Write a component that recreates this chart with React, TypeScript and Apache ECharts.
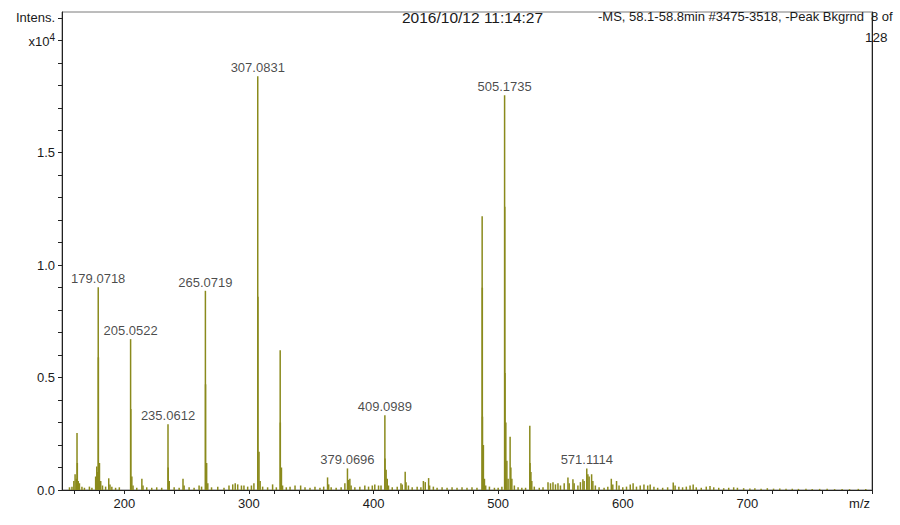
import { useEffect, useRef } from "react";
import * as echarts from "echarts";

// m/z range and axis ticks
const mzMin = 150;
const mzMax = 800;
const intensMax = 2.126; // x10^4
const xTickValues = [160, 180, 200, 220, 240, 260, 280, 300, 320, 340, 360, 380, 400, 420, 440, 460, 480, 500, 520, 540, 560, 580, 600, 620, 640, 660, 680, 700, 720, 740, 760, 780, 800];
const xLabelValues = [200, 300, 400, 500, 600, 700];
const yTickValues = [0, 0.1, 0.2, 0.3, 0.4, 0.5, 0.6, 0.7, 0.8, 0.9, 1.0, 1.1, 1.2, 1.3, 1.4, 1.5, 1.6, 1.7, 1.8, 1.9, 2.0, 2.1];
const yLabelValues = [0, 0.5, 1.0, 1.5, 2.0, 2.1];

// spectrum peaks [m/z, intensity x10^4]
const peaks150to250: [number, number][] = [
  [156, 0.012], [158, 0.015], [159.5, 0.04], [160.5, 0.07], [161.5, 0.05], [162.05, 0.253], [162.3, 0.12],
  [163.05, 0.04], [164, 0.03], [166, 0.015], [168, 0.01], [172, 0.015], [174, 0.01],
  [177.0, 0.06], [177.9, 0.104], [178.3, 0.08], [179.0718, 0.902], [179.2, 0.59], [180.07, 0.12],
  [181.07, 0.04], [182.5, 0.02], [185, 0.015], [187.5, 0.052], [188.5, 0.025], [190, 0.015], [193, 0.01], [196, 0.012],
  [205.0522, 0.671], [205.2, 0.36], [206.05, 0.06], [207, 0.02], [210, 0.01], [214.1, 0.05], [215, 0.02],
  [218, 0.012], [222, 0.01], [226, 0.012], [230, 0.01],
  [235.0612, 0.292], [235.2, 0.1], [236.06, 0.04], [240, 0.012], [244, 0.01], [247.1, 0.05], [248, 0.02],
];
const peaks250to350: [number, number][] = [
  [252, 0.012], [256, 0.01], [260, 0.02], [262, 0.015],
  [265.0719, 0.886], [265.2, 0.47], [266.07, 0.12], [267, 0.03], [270, 0.012], [275, 0.015], [280, 0.01],
  [284, 0.02], [287, 0.025], [289, 0.03], [291, 0.025], [294, 0.02], [296, 0.02], [299, 0.015], [302, 0.02], [304, 0.03],
  [307.0831, 1.84], [307.2, 0.86], [308.09, 0.17], [309, 0.04], [311, 0.015], [315, 0.012], [319, 0.025], [322, 0.012],
  [325.09, 0.622], [325.2, 0.3], [326.1, 0.1], [327, 0.02], [330, 0.012], [333, 0.015], [337, 0.02], [341.5, 0.02],
  [345, 0.012], [349, 0.01],
];
const peaks350to450: [number, number][] = [
  [353, 0.015], [357, 0.01], [360, 0.015],
  [363.1, 0.056], [364, 0.025], [366, 0.012], [370, 0.01], [374, 0.012], [377, 0.03], [379.0696, 0.096],
  [380, 0.045], [381, 0.05], [382, 0.02], [385, 0.012], [389, 0.015], [393, 0.02], [396, 0.015], [399, 0.02],
  [401, 0.025], [404, 0.02], [406, 0.02],
  [409.0989, 0.333], [409.2, 0.14], [410.1, 0.09], [411, 0.05], [412, 0.02], [415, 0.012], [419, 0.015],
  [422, 0.03], [423, 0.025], [425.4, 0.081], [426.1, 0.035], [428, 0.02], [431, 0.012], [435, 0.015], [438, 0.012],
  [440, 0.04], [441.5, 0.035], [444.2, 0.053], [445, 0.02], [448, 0.015],
];
const peaks450to550: [number, number][] = [
  [451, 0.01], [455, 0.012], [459, 0.01], [463, 0.012], [467, 0.01], [471, 0.012], [475, 0.01], [479, 0.012], [483, 0.01],
  [487.16, 1.218], [487.3, 0.9], [487.4, 0.326], [488.16, 0.2], [489, 0.05], [490, 0.02], [493, 0.015], [497, 0.01],
  [500, 0.01], [503, 0.015],
  [505.1735, 1.756], [505.3, 1.26], [505.45, 0.52], [506.17, 0.3], [507, 0.13], [508, 0.05], [509.6, 0.237],
  [510.2, 0.1], [511, 0.05], [513, 0.02], [516, 0.012], [519, 0.01], [522, 0.01],
  [525.4, 0.286], [525.6, 0.12], [526.3, 0.08], [527, 0.04], [529, 0.015], [533, 0.01], [536, 0.012],
  [540, 0.035], [542, 0.03], [544, 0.035], [546, 0.025], [548, 0.03],
];
const peaks550to800: [number, number][] = [
  [550, 0.02], [553, 0.03], [556, 0.056], [557, 0.03], [560, 0.048], [561, 0.03], [564, 0.02], [566, 0.035],
  [568, 0.048], [569, 0.04], [571.1114, 0.096], [572, 0.07], [573, 0.06], [575, 0.07], [576, 0.04], [578, 0.02],
  [581, 0.012], [585, 0.01], [588, 0.015], [590.8, 0.05], [592, 0.025], [595, 0.04], [597, 0.02], [600, 0.012],
  [603, 0.015], [606, 0.025], [608.3, 0.03], [611, 0.015], [614, 0.02], [617, 0.025], [620, 0.02], [622, 0.025],
  [625, 0.015], [628, 0.01], [632, 0.01], [636, 0.012], [640.5, 0.033], [642, 0.02], [645, 0.015], [648, 0.012],
  [651, 0.015], [654, 0.02], [656.5, 0.025], [659, 0.012], [663, 0.01], [667, 0.015], [670, 0.018], [673, 0.012],
  [677, 0.01], [681, 0.008], [685, 0.01], [689, 0.012], [692, 0.01], [697, 0.008], [702, 0.007], [706, 0.008],
  [711, 0.006], [716, 0.008], [721, 0.006], [726, 0.007], [731, 0.006], [736, 0.006], [741, 0.005], [747, 0.006],
  [752, 0.005], [758, 0.005], [764, 0.006], [770, 0.004], [776, 0.005], [782, 0.004], [789, 0.005], [795, 0.004],
];

// annotated peaks
const labelMz = [179.0718, 205.0522, 235.0612, 265.0719, 307.0831, 379.0696, 409.0989, 505.1735, 571.1114];
const labelIntensity = [0.902, 0.671, 0.292, 0.886, 1.84, 0.096, 0.333, 1.756, 0.096];
const labelText = ["179.0718", "205.0522", "235.0612", "265.0719", "307.0831", "379.0696", "409.0989", "505.1735", "571.1114"];

const headerDate = "2016/10/12 11:14:27";
const headerScan = "-MS, 58.1-58.8min #3475-3518, -Peak Bkgrnd";
const headerPage = "8 of";
const headerPageTotal = "128";
const xAxisTitle = "m/z";

const FONT = "'Liberation Sans', Arial, sans-serif";
const TEXT = "#1a1a1a";
const PEAK = "#8a8a1c";

export default function App() {
  const ref = useRef<HTMLDivElement>(null);
  useEffect(() => {
    const chart = echarts.init(ref.current!, null, { renderer: "svg" });
    const spectrum = [...peaks150to250, ...peaks250to350, ...peaks350to450, ...peaks450to550, ...peaks550to800];
    const labelData = labelMz.map((mz, i) => ({ value: [mz, labelIntensity[i]], name: labelText[i] }));
    chart.setOption({
      animation: false,
      textStyle: { fontFamily: FONT },
      grid: { left: 62, right: 28, top: 12, bottom: 35, show: true, borderColor: "#7a7a7a", borderWidth: 1, backgroundColor: "transparent" },
      xAxis: {
        type: "value",
        min: mzMin,
        max: mzMax,
        axisLine: { show: true, onZero: false, lineStyle: { color: "#222", width: 1 } },
        axisTick: { show: true, inside: false, length: 4, customValues: xTickValues, lineStyle: { color: "#222" } },
        axisLabel: { customValues: xLabelValues, color: TEXT, fontSize: 13, fontFamily: FONT, margin: 7 },
        splitLine: { show: false },
      },
      yAxis: [
        {
          type: "value",
          min: 0,
          max: intensMax,
          axisLine: { show: true, lineStyle: { color: "#222", width: 1 } },
          axisTick: { show: true, length: 4, customValues: yTickValues, lineStyle: { color: "#222" } },
          axisLabel: {
            customValues: yLabelValues,
            color: TEXT,
            fontSize: 13,
            fontFamily: FONT,
            margin: 7,
            formatter: (v: number) => {
              if (Math.abs(v - 2.1) < 1e-6) return "Intens.";
              if (Math.abs(v - 2.0) < 1e-6) return "{b|x10}{s|4}";
              return v.toFixed(1);
            },
            rich: {
              b: { fontSize: 13, fontFamily: FONT, color: TEXT, lineHeight: 16, verticalAlign: "bottom" },
              s: { fontSize: 10, fontFamily: FONT, color: TEXT, lineHeight: 16, verticalAlign: "top" },
            },
          },
          splitLine: { show: false },
        },
        {
          type: "value",
          min: 0,
          max: intensMax,
          position: "right",
          axisLine: { show: true, lineStyle: { color: "#222", width: 1 } },
          axisTick: { show: false },
          axisLabel: { show: false },
          splitLine: { show: false },
        },
      ],
      series: [
        {
          type: "bar",
          data: spectrum,
          barWidth: 1.5,
          itemStyle: { color: PEAK },
          silent: true,
          clip: true,
        },
        {
          type: "scatter",
          data: labelData,
          symbolSize: 0,
          silent: true,
          label: {
            show: true,
            position: "top",
            distance: 2,
            formatter: "{b}",
            color: TEXT,
            fontSize: 13,
            fontFamily: FONT,
          },
        },
      ],
      graphic: [
        { type: "text", left: 402, top: 9, style: { text: headerDate, font: `15.5px ${FONT}`, fill: TEXT } },
        { type: "text", left: 598, top: 10, style: { text: headerScan, font: `13px ${FONT}`, fill: TEXT } },
        { type: "text", left: 871, top: 10, style: { text: headerPage, font: `13px ${FONT}`, fill: TEXT } },
        { type: "text", left: 865, top: 30, style: { text: headerPageTotal, font: `13.5px ${FONT}`, fill: TEXT } },
        { type: "text", right: 30, top: 497, style: { text: xAxisTitle, font: `13px ${FONT}`, fill: TEXT } },
      ],
    });
    return () => chart.dispose();
  }, []);
  return <div ref={ref} style={{ position: "absolute", left: 0, top: 0, width: 900, height: 525 }} />;
}
